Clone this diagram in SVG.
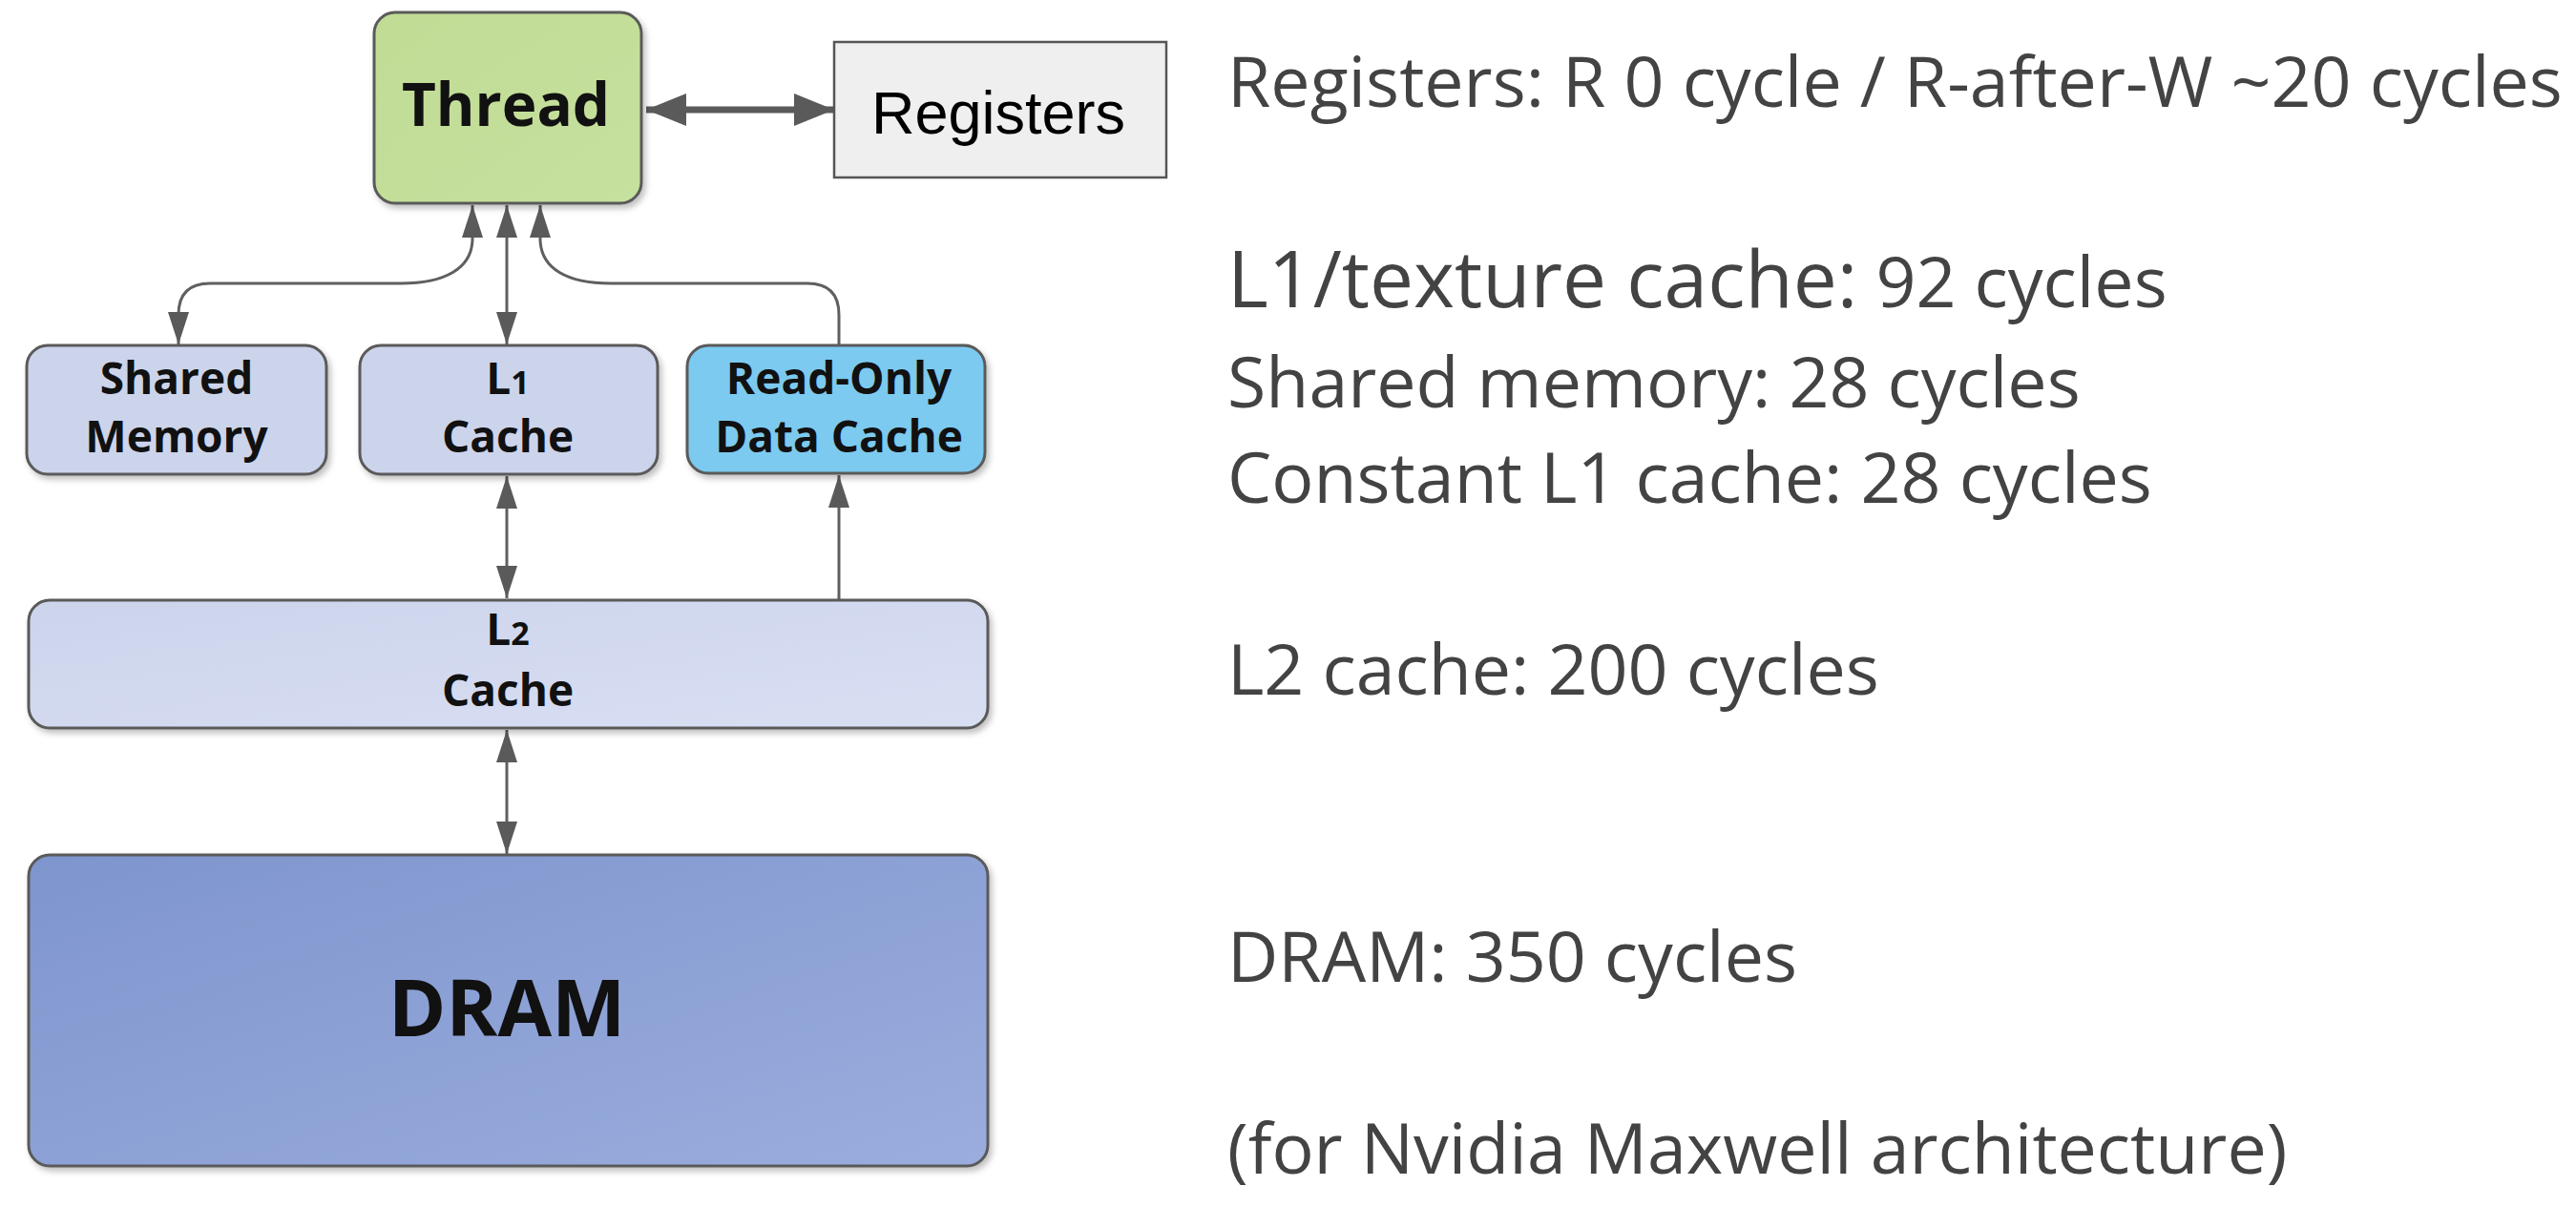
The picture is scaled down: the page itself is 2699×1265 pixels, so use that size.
<svg xmlns="http://www.w3.org/2000/svg" width="2699" height="1265" viewBox="0 0 2699 1265">
<style>
.box{stroke:#5a5a5a;stroke-width:3;filter:url(#sh)}
.lbl{font-family:"Open Sans","Noto Sans",sans-serif;font-weight:700;fill:#111;text-anchor:middle}
.sm{font-size:46px}
.note{font-family:"Open Sans","Noto Sans",sans-serif;font-size:73.5px;fill:#434343}
.conn{fill:none;stroke:#5f5f5f;stroke-width:3}
</style>
<defs>
<filter id="sh" x="-10%" y="-10%" width="125%" height="130%">
<feDropShadow dx="3" dy="4" stdDeviation="3" flood-color="#000" flood-opacity="0.25"/>
</filter>
<marker id="ah" viewBox="0 0 34 22" refX="34" refY="11" markerWidth="34" markerHeight="22" markerUnits="userSpaceOnUse" orient="auto-start-reverse">
<path d="M0,0 L34,11 L0,22 z" fill="#5a5a5a"/>
</marker>
<marker id="ahb" viewBox="0 0 42 34" refX="42" refY="17" markerWidth="42" markerHeight="34" markerUnits="userSpaceOnUse" orient="auto-start-reverse">
<path d="M0,0 L42,17 L0,34 z" fill="#5a5a5a"/>
</marker>
<linearGradient id="gDram" x1="0" y1="0" x2="1" y2="1">
<stop offset="0" stop-color="#7e95cd"/>
<stop offset="1" stop-color="#9badde"/>
</linearGradient>
<linearGradient id="gL2" x1="0" y1="0" x2="1" y2="1">
<stop offset="0" stop-color="#ccd4ec"/>
<stop offset="1" stop-color="#d9dff3"/>
</linearGradient>
<linearGradient id="gThread" x1="0" y1="0" x2="1" y2="1">
<stop offset="0" stop-color="#c0dc94"/>
<stop offset="1" stop-color="#c6e09e"/>
</linearGradient>
</defs>

<g id="connectors">
<line x1="677" y1="115" x2="874" y2="115" stroke="#5a5a5a" stroke-width="7" marker-start="url(#ahb)" marker-end="url(#ahb)"/>
<path class="conn" d="M187,361 L187,330 Q187,297 220,297 L420,297 C465,297 495,282 495,250 L495,215" marker-start="url(#ah)" marker-end="url(#ah)"/>
<line class="conn" x1="531" y1="215" x2="531" y2="361" marker-start="url(#ah)" marker-end="url(#ah)"/>
<path class="conn" d="M879,362 L879,330 Q879,297 846,297 L640,297 C595,297 566,282 566,250 L566,215" marker-end="url(#ah)"/>
<line class="conn" x1="531" y1="499" x2="531" y2="627" marker-start="url(#ah)" marker-end="url(#ah)"/>
<line class="conn" x1="879" y1="629" x2="879" y2="498" marker-end="url(#ah)"/>
<line class="conn" x1="531" y1="765" x2="531" y2="895" marker-start="url(#ah)" marker-end="url(#ah)"/>
</g>

<g id="thread">
<rect class="box" x="392" y="13" width="280" height="200" rx="22" fill="url(#gThread)"/>
<text class="lbl" x="530" y="132" font-size="62">Thread</text>
</g>

<g id="registers">
<rect x="874" y="44" width="348" height="142" fill="#efefef" stroke="#555" stroke-width="2.5"/>
<text x="1046" y="140" font-family="'Liberation Sans',Arial,sans-serif" font-size="63" fill="#000" text-anchor="middle">Registers</text>
</g>

<g id="shared-memory">
<rect class="box" x="28" y="362" width="314" height="135" rx="22" fill="#ccd4ec"/>
<text class="lbl sm" x="185" y="413">Shared</text>
<text class="lbl sm" x="185" y="474">Memory</text>
</g>

<g id="l1-cache">
<rect class="box" x="377" y="362" width="312" height="135" rx="22" fill="#ccd4ec"/>
<text class="lbl sm" x="532" y="413">L<tspan font-size="34">1</tspan></text>
<text class="lbl sm" x="532" y="474">Cache</text>
</g>

<g id="read-only-cache">
<rect class="box" x="720" y="362" width="312" height="134" rx="22" fill="#7ccaf0"/>
<text class="lbl sm" x="879" y="413">Read-Only</text>
<text class="lbl sm" x="879" y="474">Data Cache</text>
</g>

<g id="l2-cache">
<rect class="box" x="30" y="629" width="1005" height="134" rx="22" fill="url(#gL2)"/>
<text class="lbl sm" x="532" y="676">L<tspan font-size="34">2</tspan></text>
<text class="lbl sm" x="532" y="740">Cache</text>
</g>

<g id="dram">
<rect class="box" x="30" y="896" width="1005" height="326" rx="22" fill="url(#gDram)"/>
<text class="lbl" x="531" y="1086" font-size="82">DRAM</text>
</g>

<g id="latency-notes">
<text class="note" x="1286" y="112">Registers: R 0 cycle / R-after-W ~20 cycles</text>
<text class="note" x="1286" y="322"><tspan font-size="82">L1/texture cache:</tspan> 92 cycles</text>
<text class="note" x="1286" y="427">Shared memory: 28 cycles</text>
<text class="note" x="1286" y="527">Constant L1 cache: 28 cycles</text>
<text class="note" x="1286" y="728">L2 cache: 200 cycles</text>
<text class="note" x="1286" y="1029">DRAM: 350 cycles</text>
<text class="note" x="1286" y="1230">(for Nvidia Maxwell architecture)</text>
</g>
</svg>
